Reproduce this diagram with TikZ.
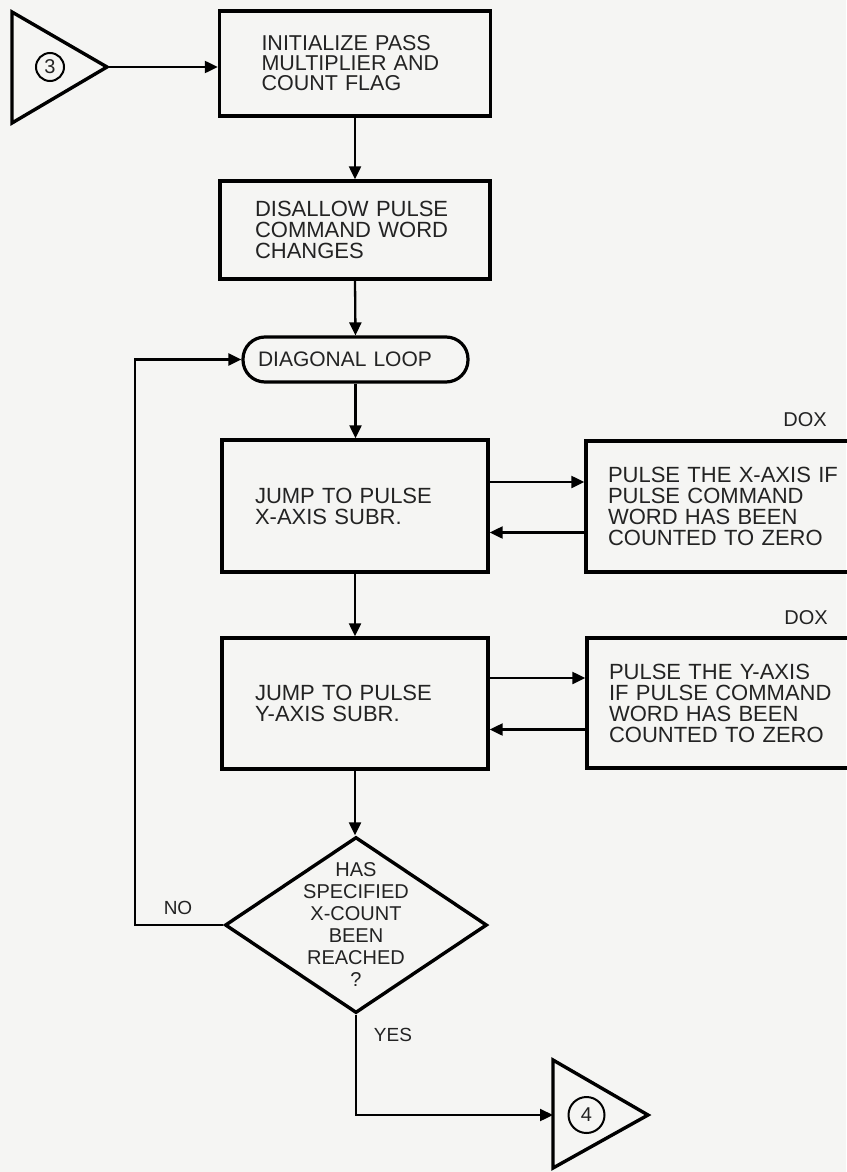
\documentclass[tikz,border=0pt]{standalone}
\usepackage{fontspec}
\setmainfont{Liberation Sans}
\usetikzlibrary{shapes.geometric,arrows.meta}
\definecolor{bg}{RGB}{245,245,243}
\definecolor{ink}{RGB}{35,35,35}
\begin{document}
\begin{tikzpicture}[x=1pt,y=-1pt,
  box/.style={draw=black, line width=3.4pt, rectangle, inner ysep=0pt, align=left,
              font=\fontsize{22}{21}\selectfont, text=ink},
  conn/.style={line width=2.3pt, -{Triangle[length=13pt,width=12pt]}},
  term/.style={draw=black, line width=3.2pt, rectangle, rounded corners=22pt, inner ysep=0pt,
              align=left, font=\fontsize{21}{21}\selectfont, text=ink},
  decision/.style={draw=black, line width=3.4pt, diamond, inner sep=0pt,
              minimum width=262pt, minimum height=176pt},
  lbl/.style={font=\fontsize{19}{19}\selectfont, text=ink, inner sep=0pt},
  conncirc/.style={draw=black, circle, line width=2pt, inner sep=0pt, text=ink},
  offpage/.style={line width=3.4pt, line join=miter}]
\fill[bg] (0,0) rectangle (846,1172);
\useasboundingbox (0,0) rectangle (846,1172);

% connector triangle 3
\draw[offpage] (12,12) -- (12,123) -- (107,67) -- cycle;
\coordinate (t3) at (107,67);
\node[conncirc, minimum size=28pt, font=\fontsize{20}{20}\selectfont] (c3) at (50,67) {3};

% main column
\node[box, minimum width=271pt, minimum height=105pt, text width=187pt, inner xsep=42pt,
      font=\fontsize{21.5}{20}\selectfont] (init) at (355,63.5)
      {INITIALIZE PASS\\MULTIPLIER AND\\COUNT FLAG};
\node[box, minimum width=270pt, minimum height=98pt, text width=200pt, inner xsep=35pt] (disallow) at (355,230)
      {DISALLOW PULSE\\COMMAND WORD\\CHANGES};
\node[term, minimum width=225pt, minimum height=45pt, text width=195pt, inner xsep=15pt] (loop) at (355.5,359.5)
      {DIAGONAL LOOP};
\node[box, minimum width=266pt, minimum height=132pt, text width=200pt, inner xsep=33pt] (jump1) at (355,506)
      {JUMP TO PULSE\\X-AXIS SUBR.};
\node[box, minimum width=266pt, minimum height=131pt, text width=200pt, inner xsep=33pt] (jump2) at (355,703.5)
      {JUMP TO PULSE\\Y-AXIS SUBR.};
\node[decision] (dec) at (356,925) {};
\node[align=center, font=\fontsize{20}{22}\selectfont, text=ink, inner sep=0pt] (dectext) at (dec.center)
      {HAS\\SPECIFIED\\X-COUNT\\BEEN\\REACHED\\?};

% subroutine boxes
\node[box, minimum width=284pt, minimum height=131pt, text width=240pt, inner xsep=22pt] (dox1) at (728,506.5)
      {PULSE THE X-AXIS IF\\PULSE COMMAND\\WORD HAS BEEN\\COUNTED TO ZERO};
\node[box, minimum width=284pt, minimum height=130pt, text width=240pt, inner xsep=22pt] (dox2) at (729,703)
      {PULSE THE Y-AXIS\\IF PULSE COMMAND\\WORD HAS BEEN\\COUNTED TO ZERO};
\node[lbl, font=\fontsize{20}{20}\selectfont] (doxl1) at (805,420) {DOX};
\node[lbl, font=\fontsize{20}{20}\selectfont] (doxl2) at (806,618) {DOX};

% connector triangle 4
\draw[offpage] (553,1060) -- (553,1168) -- (648,1115) -- cycle;
\coordinate (t4) at (553,1115);
\node[conncirc, minimum size=36pt, font=\fontsize{20}{20}\selectfont] (c4) at (586.5,1115) {4};

% labels
\node[lbl] (nolbl) at (178,908) {NO};
\node[lbl] (yeslbl) at (393,1035) {YES};

% connectors
\draw[conn] (t3) -- (t3 -| init.west);
\draw[conn] (init.south) -- (disallow.north);
\draw[conn] (disallow.south) -- (loop.north);
\draw[conn] (loop.south) -- (loop.south |- jump1.north);
\draw[conn] (jump1.south) -- (jump2.north);
\draw[conn] (jump2.south) -- (jump2.south |- dec.north);
\draw[conn] ([yshift=24pt]jump1.east) -- ([yshift=24pt]jump1.east -| dox1.west);
\draw[conn] ([yshift=-26pt]dox1.west) -- ([yshift=-26pt]dox1.west -| jump1.east);
\draw[conn] ([yshift=25.5pt]jump2.east) -- ([yshift=25.5pt]jump2.east -| dox2.west);
\draw[conn] ([yshift=-26.5pt]dox2.west) -- ([yshift=-26.5pt]dox2.west -| jump2.east);
\draw[conn] (dec.west) -- ++(-88,0) |- (loop.west);
\draw[conn] (dec.south) |- (t4);
\end{tikzpicture}
\end{document}
